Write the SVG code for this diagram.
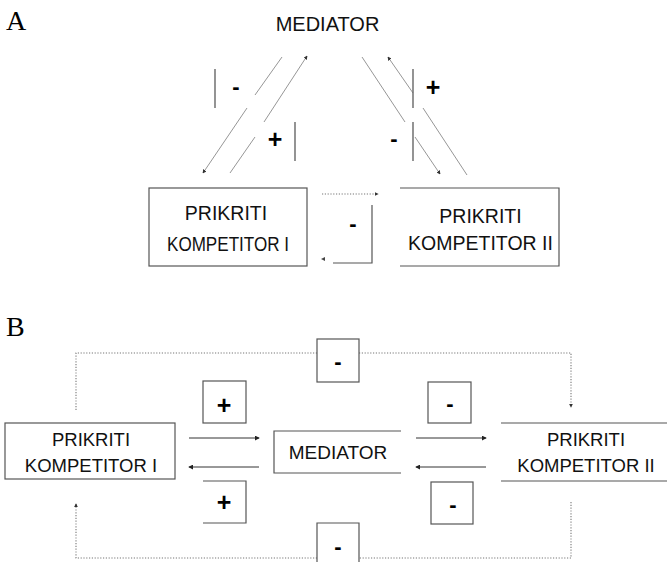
<svg xmlns="http://www.w3.org/2000/svg" width="667" height="562" viewBox="0 0 667 562">
<style>
.lbl{font-family:"Liberation Sans",Arial,sans-serif;fill:#111;text-anchor:middle}
.sign{font-family:"Liberation Sans",Arial,sans-serif;font-weight:bold;font-size:22px;text-anchor:middle;fill:#000}
.plus{font-size:25px}
.panel{font-family:"Liberation Serif","Times New Roman",serif;font-size:28px;fill:#000}
.box{fill:none;stroke:#555;stroke-width:1.2}
.bar{fill:none;stroke:#666;stroke-width:1.4}
.diag{fill:none;stroke:#8a8a8a;stroke-width:0.9}
.dot{fill:none;stroke:#777;stroke-width:1.1;stroke-dasharray:1.2 1.6}
.arrow{fill:none;stroke:#333;stroke-width:1}
</style>
<defs>
<marker id="head" viewBox="0 0 6 6" refX="5" refY="3" markerWidth="5" markerHeight="5" markerUnits="userSpaceOnUse" orient="auto">
<path d="M0,0 L6,3 L0,6 z" fill="#222"/>
</marker>
<marker id="tip" viewBox="0 0 6 6" refX="5" refY="3" markerWidth="4" markerHeight="4" markerUnits="userSpaceOnUse" orient="auto">
<path d="M0,0 L6,3 L0,6 z" fill="#333"/>
</marker>
</defs>

<text class="panel" x="6" y="30">A</text>
<text class="panel" x="6" y="336">B</text>

<!-- Panel A -->
<g id="a-mediator">
<text class="lbl" x="327.5" y="31" font-size="20">MEDIATOR</text>
</g>
<g id="a-competitor-1">
<rect class="box" x="149" y="188" width="158" height="78"/>
<text class="lbl" x="226" y="220" font-size="19.5">PRIKRITI</text>
<text class="lbl" x="228" y="251" font-size="19.5" textLength="122" lengthAdjust="spacingAndGlyphs">KOMPETITOR I</text>
</g>
<g id="a-competitor-2">
<path class="box" d="M400,188 H559 V266 H400"/>
<text class="lbl" x="480.5" y="223" font-size="19.5">PRIKRITI</text>
<text class="lbl" x="480.5" y="250" font-size="19.5">KOMPETITOR II</text>
</g>

<g id="a-connectors">
<!-- left pair -->
<path class="diag" d="M282,57 L255,95"/>
<path class="diag" d="M247,108 L203,173" marker-end="url(#tip)"/>
<path class="diag" d="M230,173 L255,137"/>
<path class="diag" d="M264,122 L307,56" marker-end="url(#tip)"/>
<!-- right pair -->
<path class="diag" d="M467,175 L423,108"/>
<path class="diag" d="M413,93 L388,57" marker-end="url(#tip)"/>
<path class="diag" d="M362,57 L405,122"/>
<path class="diag" d="M415,137 L440,174" marker-end="url(#tip)"/>
<!-- between competitors -->
<path class="dot" d="M322,194 H378" marker-end="url(#tip)"/>
<path d="M325,257 L321,259 L325,261 z" fill="#444"/>
</g>

<g id="a-sign-left-minus">
<path class="bar" d="M215,69 V108" stroke="#555"/>
<text class="sign" x="236" y="94">-</text>
</g>
<g id="a-sign-left-plus">
<path class="bar" d="M295,122 V161"/>
<text class="sign plus" x="275" y="148">+</text>
</g>
<g id="a-sign-right-plus">
<path class="bar" d="M413,69 V108" stroke="#999" stroke-width="2"/>
<text class="sign plus" x="433" y="96">+</text>
</g>
<g id="a-sign-right-minus">
<path class="bar" d="M413,122 V161" stroke="#999" stroke-width="2"/>
<text class="sign" x="394" y="146">-</text>
</g>
<g id="a-sign-middle">
<path class="box" d="M333,263 H372 V205"/>
<text class="sign" x="353" y="231">-</text>
</g>

<!-- Panel B -->
<g id="b-competitor-1">
<rect class="box" x="5" y="423" width="170" height="56"/>
<text class="lbl" x="91" y="446" font-size="18.5">PRIKRITI</text>
<text class="lbl" x="91" y="472" font-size="18.5">KOMPETITOR I</text>
</g>
<g id="b-mediator">
<path class="box" d="M401,431 H274 V473 H401"/>
<text class="lbl" x="338" y="459" font-size="19">MEDIATOR</text>
</g>
<g id="b-competitor-2">
<path class="box" d="M501,423 H667 M501,481 H667"/>
<text class="lbl" x="586" y="446" font-size="18.5">PRIKRITI</text>
<text class="lbl" x="586" y="472" font-size="18.5">KOMPETITOR II</text>
</g>

<g id="b-connectors">
<path class="arrow" d="M189,438 H259" marker-end="url(#head)"/>
<path class="arrow" d="M259,467 H189" marker-end="url(#head)"/>
<path class="arrow" d="M416,438 H486" marker-end="url(#head)"/>
<path class="arrow" d="M486,467 H416" marker-end="url(#head)"/>
<path class="dot" d="M76,410 V353 H317"/>
<path class="dot" d="M359,353 H571 V407" marker-end="url(#tip)"/>
<path class="dot" d="M571,502 V558 H359"/>
<path class="dot" d="M317,558 H76 V504" marker-end="url(#tip)"/>
</g>

<g id="b-sign-top-plus">
<rect class="box" x="203" y="381" width="43" height="42"/>
<text class="sign plus" x="224" y="414">+</text>
</g>
<g id="b-sign-bottom-plus">
<path class="box" d="M203,481 H246 V523 H203"/>
<text class="sign plus" x="224" y="511">+</text>
</g>
<g id="b-sign-top-minus">
<rect class="box" x="428" y="382" width="43" height="41"/>
<text class="sign" x="450" y="411">-</text>
</g>
<g id="b-sign-bottom-minus">
<rect class="box" x="431" y="482" width="42" height="42"/>
<text class="sign" x="453" y="512">-</text>
</g>
<g id="b-sign-upper">
<rect class="box" x="317" y="339" width="42" height="43"/>
<text class="sign" x="338" y="369">-</text>
</g>
<g id="b-sign-lower">
<path class="box" d="M317,563 V523 H359 V563"/>
<text class="sign" x="338" y="554">-</text>
</g>
</svg>
